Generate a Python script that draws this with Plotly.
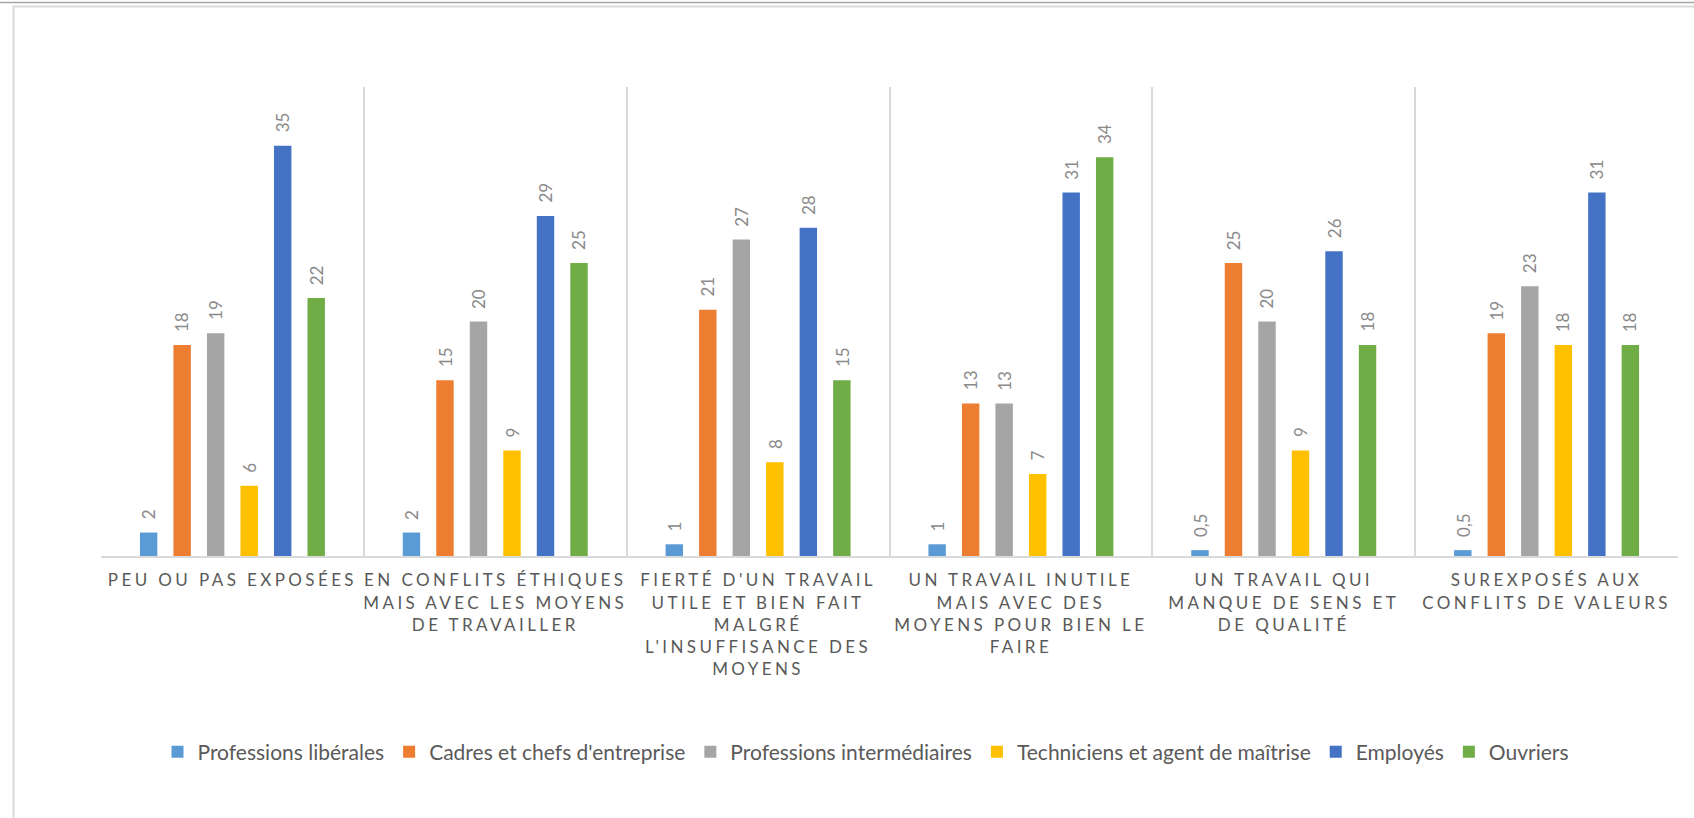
import plotly.graph_objects as go

# ---------------- data ----------------
categories = [
    "PEU OU PAS EXPOSÉES",
    "EN CONFLITS ÉTHIQUES MAIS AVEC LES MOYENS DE TRAVAILLER",
    "FIERTÉ D'UN TRAVAIL UTILE ET BIEN FAIT MALGRÉ L'INSUFFISANCE DES MOYENS",
    "UN TRAVAIL INUTILE MAIS AVEC DES MOYENS POUR BIEN LE FAIRE",
    "UN TRAVAIL QUI MANQUE DE SENS ET DE QUALITÉ",
    "SUREXPOSÉS AUX CONFLITS DE VALEURS",
]
tick_labels = [
    "PEU OU PAS EXPOSÉES",
    "EN CONFLITS ÉTHIQUES<br>MAIS AVEC LES MOYENS<br>DE TRAVAILLER",
    "FIERTÉ D'UN TRAVAIL<br>UTILE ET BIEN FAIT<br>MALGRÉ<br>L'INSUFFISANCE DES<br>MOYENS",
    "UN TRAVAIL INUTILE<br>MAIS AVEC DES<br>MOYENS POUR BIEN LE<br>FAIRE",
    "UN TRAVAIL QUI<br>MANQUE DE SENS ET<br>DE QUALITÉ",
    "SUREXPOSÉS AUX<br>CONFLITS DE VALEURS",
]
series_names = [
    "Professions libérales",
    "Cadres et chefs d'entreprise",
    "Professions intermédiaires",
    "Techniciens et agent de maîtrise",
    "Employés",
    "Ouvriers",
]
professions_liberales = [2, 2, 1, 1, 0.5, 0.5]
cadres_chefs = [18, 15, 21, 13, 25, 19]
professions_intermediaires = [19, 20, 27, 13, 20, 23]
techniciens_agents = [6, 9, 8, 7, 9, 18]
employes = [35, 29, 28, 31, 26, 31]
ouvriers = [22, 25, 15, 34, 18, 18]

series_values = [professions_liberales, cadres_chefs, professions_intermediaires,
                 techniciens_agents, employes, ouvriers]
colors = ["#5B9BD5", "#ED7D31", "#A5A5A5", "#FFC000", "#4472C4", "#70AD47"]

# ---------------- layout constants ----------------
W, H = 1694, 818
ML, MR, MT, MB = 101, 16, 87, 262
PW, PH = W - ML - MR, H - MT - MB
FONT = "Lato, 'Open Sans', sans-serif"
BARGAP = 0.235
BARGROUPGAP = 0.48
N_SERIES = len(series_names)
SLOT_PX = PW / len(categories) * (1 - BARGAP) / N_SERIES


def px2x(px):
    return (px - ML) / PW


def py2y(py):
    return (H - MB - py) / PH


def fmt(v):
    return f"{v:g}".replace(".", ",")


fig = go.Figure()
annotations = []
for i, (name, vals, col) in enumerate(zip(series_names, series_values, colors)):
    fig.add_trace(go.Bar(
        name=name,
        x=categories,
        y=vals,
        marker=dict(color=col, line=dict(width=0)),
    ))
    for cat, v in zip(categories, vals):
        annotations.append(dict(
            x=cat, y=v, xref="x", yref="y",
            text=fmt(v), textangle=-90, showarrow=False,
            xanchor="center", yanchor="bottom",
            xshift=(i - (N_SERIES - 1) / 2) * SLOT_PX, yshift=11,
            font=dict(family=FONT, size=17, color="#8a8a8a"),
        ))

fig.update_layout(
    width=W, height=H,
    margin=dict(l=ML, r=MR, t=MT, b=MB),
    paper_bgcolor="white", plot_bgcolor="white",
    barmode="group", bargap=BARGAP, bargroupgap=BARGROUPGAP,
    font=dict(family=FONT, color="#595959"),
    showlegend=True,
    legend=dict(
        orientation="h", x=px2x(866), xanchor="center",
        y=py2y(752), yanchor="middle",
        font=dict(family=FONT, size=21, color="#595959"),
        itemwidth=30, traceorder="normal",
    ),
    xaxis=dict(
        type="category",
        tickmode="array", tickvals=categories, ticktext=tick_labels,
        tickson="boundaries", ticks="", tickangle=0,
        showgrid=True, gridcolor="#d9d9d9", gridwidth=2,
        showline=True, linecolor="#d9d9d9", linewidth=2,
        tickfont=dict(family=FONT, size=17, color="#595959"),
        ticklabelstandoff=8,
    ),
    yaxis=dict(range=[0, 40], visible=False, showgrid=False, zeroline=False),
    annotations=annotations,
    shapes=[
        dict(type="line", xref="paper", yref="paper",
             x0=px2x(0), x1=px2x(W), y0=py2y(2.5), y1=py2y(2.5),
             line=dict(color="#a6a6a6", width=1.5)),
        dict(type="line", xref="paper", yref="paper",
             x0=px2x(13), x1=px2x(W), y0=py2y(6.5), y1=py2y(6.5),
             line=dict(color="#d9d9d9", width=2)),
        dict(type="line", xref="paper", yref="paper",
             x0=px2x(13.5), x1=px2x(13.5), y0=py2y(6), y1=py2y(H),
             line=dict(color="#d9d9d9", width=2)),
    ],
)

post = ("var s=document.createElement('style');"
        "s.innerHTML='.xtick text{letter-spacing:3.4px}';"
        "document.head.appendChild(s);")
fig.write_html("out.html", post_script=post)
